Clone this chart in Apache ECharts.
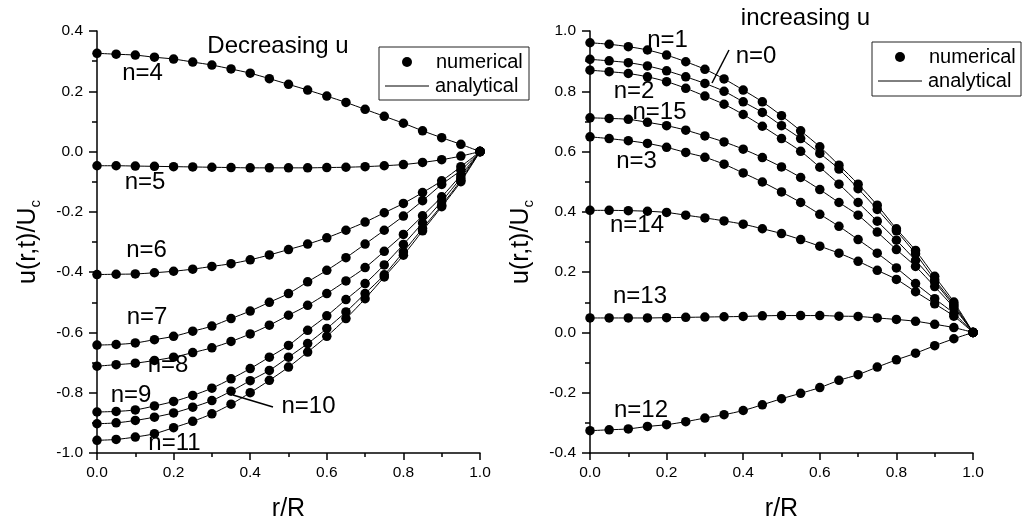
<!DOCTYPE html>
<html>
<head>
<meta charset="utf-8">
<script src="https://cdn.jsdelivr.net/npm/echarts@6/dist/echarts.min.js"></script>
<style>
html,body{margin:0;padding:0;background:#fff;}
#c{width:1022px;height:522px;}
</style>
</head>
<body>
<div id="c"></div>
<script>
// radial positions r/R
const r = [0,0.05,0.1,0.15,0.2,0.25,0.3,0.35,0.4,0.45,0.5,0.55,0.6,0.65,0.7,0.75,0.8,0.85,0.9,0.95,1.0];

// left panel: decreasing u
const n4  = [0.326,0.323,0.320,0.313,0.307,0.297,0.287,0.274,0.260,0.242,0.223,0.204,0.184,0.163,0.140,0.117,0.094,0.069,0.046,0.024,0];
const n5  = [-0.047,-0.047,-0.048,-0.049,-0.050,-0.051,-0.052,-0.053,-0.054,-0.054,-0.054,-0.054,-0.053,-0.052,-0.050,-0.047,-0.043,-0.036,-0.027,-0.015,0];
const n6  = [-0.408,-0.407,-0.406,-0.402,-0.397,-0.390,-0.381,-0.372,-0.359,-0.343,-0.325,-0.307,-0.286,-0.261,-0.234,-0.203,-0.172,-0.136,-0.097,-0.050,0];
const n7  = [-0.642,-0.640,-0.635,-0.624,-0.613,-0.596,-0.579,-0.554,-0.529,-0.500,-0.471,-0.432,-0.394,-0.352,-0.307,-0.261,-0.214,-0.163,-0.109,-0.062,0];
const n8  = [-0.712,-0.707,-0.702,-0.693,-0.682,-0.667,-0.651,-0.630,-0.605,-0.576,-0.543,-0.510,-0.471,-0.429,-0.385,-0.331,-0.275,-0.213,-0.150,-0.078,0];
const n9  = [-0.864,-0.862,-0.857,-0.844,-0.829,-0.809,-0.785,-0.754,-0.720,-0.682,-0.643,-0.593,-0.545,-0.491,-0.438,-0.376,-0.308,-0.237,-0.165,-0.087,0];
const n10 = [-0.903,-0.900,-0.892,-0.881,-0.867,-0.848,-0.826,-0.795,-0.760,-0.726,-0.682,-0.637,-0.587,-0.532,-0.471,-0.409,-0.333,-0.255,-0.178,-0.095,0];
const n11 = [-0.958,-0.955,-0.947,-0.936,-0.916,-0.895,-0.870,-0.838,-0.800,-0.759,-0.715,-0.665,-0.613,-0.554,-0.488,-0.416,-0.344,-0.263,-0.183,-0.100,0];

// right panel: increasing u
const n1  = [0.961,0.956,0.948,0.937,0.920,0.898,0.873,0.841,0.804,0.765,0.719,0.669,0.616,0.555,0.492,0.422,0.344,0.272,0.186,0.101,0];
const n0  = [0.906,0.901,0.895,0.884,0.868,0.848,0.826,0.800,0.765,0.730,0.686,0.643,0.594,0.542,0.477,0.408,0.337,0.261,0.175,0.094,0];
const n2  = [0.870,0.865,0.859,0.848,0.832,0.810,0.784,0.757,0.723,0.684,0.643,0.601,0.548,0.492,0.431,0.369,0.306,0.239,0.167,0.088,0];
const n15 = [0.712,0.710,0.707,0.697,0.686,0.671,0.652,0.632,0.608,0.580,0.549,0.514,0.474,0.431,0.389,0.333,0.275,0.219,0.152,0.082,0];
const n3  = [0.649,0.643,0.636,0.627,0.614,0.597,0.581,0.558,0.529,0.499,0.466,0.431,0.392,0.352,0.308,0.263,0.214,0.162,0.112,0.063,0];
const n14 = [0.405,0.405,0.404,0.402,0.398,0.389,0.380,0.370,0.359,0.344,0.328,0.308,0.286,0.263,0.236,0.206,0.176,0.135,0.095,0.054,0];
const n13 = [0.048,0.048,0.048,0.048,0.049,0.050,0.051,0.052,0.053,0.055,0.056,0.056,0.056,0.054,0.053,0.048,0.043,0.037,0.027,0.016,0];
const n12 = [-0.326,-0.323,-0.320,-0.312,-0.306,-0.296,-0.284,-0.273,-0.259,-0.240,-0.220,-0.202,-0.183,-0.159,-0.140,-0.115,-0.091,-0.069,-0.044,-0.021,0];

const leftCurves  = [n4,n5,n6,n7,n8,n9,n10,n11];
const rightCurves = [n1,n0,n2,n15,n3,n14,n13,n12];

const xTicks = [0,0.2,0.4,0.6,0.8,1.0];
const leftYRange = [-1.0, 0.4];
const rightYRange = [-0.4, 1.0];

const FONT = '"Liberation Sans", Arial, Helvetica, sans-serif';

function mkX(idx) {
  return {
    type:'value', gridIndex: idx, min: xTicks[0], max: xTicks[xTicks.length-1], interval: 0.2,
    name: 'r/R', nameLocation: 'middle', nameGap: 44,
    nameTextStyle: {fontFamily: FONT, fontSize: 25, color:'#000'},
    axisLine: {show:true, onZero:false, lineStyle:{color:'#000', width:1.5}},
    axisTick: {show:true, inside:false, length:7, lineStyle:{color:'#000', width:1.5}},
    minorTick: {show:true, splitNumber:2, length:4, lineStyle:{color:'#000', width:1.5}},
    splitLine: {show:false},
    axisLabel: {fontFamily: FONT, fontSize: 15.5, color:'#000', margin: 12, formatter: v => v.toFixed(1)}
  };
}
function mkY(idx, range) {
  return {
    type:'value', gridIndex: idx, min: range[0], max: range[1], interval: 0.2,
    name: '{m|u(r,t)/U}{s|c}', nameLocation: 'middle', nameGap: 54, nameRotate: 90,
    nameTextStyle: {fontFamily: FONT, color:'#000',
      rich: {
        m: {fontFamily: FONT, fontSize: 25, lineHeight: 30, color:'#000'},
        s: {fontFamily: FONT, fontSize: 15, lineHeight: 10, verticalAlign:'bottom', color:'#000'}
      }},
    axisLine: {show:true, onZero:false, lineStyle:{color:'#000', width:1.5}},
    axisTick: {show:true, inside:false, length:8, lineStyle:{color:'#000', width:1.5}},
    minorTick: {show:true, splitNumber:2, length:5, lineStyle:{color:'#000', width:1.5}},
    splitLine: {show:false},
    axisLabel: {fontFamily: FONT, fontSize: 15.5, color:'#000', margin: 14, formatter: v => v.toFixed(1)}
  };
}

function mkSeries(arr, gi) {
  return {
    type:'line', xAxisIndex: gi, yAxisIndex: gi,
    data: r.map((x,i)=>[x, arr[i]]),
    smooth: 0.3, symbol:'circle', symbolSize: 9.5, showSymbol: true,
    itemStyle: {color:'#000'}, lineStyle: {color:'#000', width:1},
    animation:false, silent:true
  };
}

const series = [];
leftCurves.forEach(a => series.push(mkSeries(a,0)));
rightCurves.forEach(a => series.push(mkSeries(a,1)));

function txt(t, x, y, size) {
  return {type:'text', x:x, y:y, z:100, style:{text:t, fill:'#000', font: size+'px '+FONT, align:'center', verticalAlign:'middle'}};
}
function ln(x1,y1,x2,y2) {
  return {type:'line', z:100, shape:{x1:x1,y1:y1,x2:x2,y2:y2}, style:{stroke:'#000', lineWidth:1.5}};
}
function legendBox(x, y, w, h) {
  return [
    {type:'rect', z:90, shape:{x:x,y:y,width:w,height:h}, style:{fill:'#fff', stroke:'#222', lineWidth:1}},
    {type:'circle', z:100, shape:{cx:x+28, cy:y+15, r:5}, style:{fill:'#000'}},
    {type:'text', z:100, x:x+57, y:y+15, style:{text:'numerical', fill:'#000', font:'20px '+FONT, align:'left', verticalAlign:'middle'}},
    {type:'line', z:100, shape:{x1:x+6, y1:y+39, x2:x+50, y2:y+39}, style:{stroke:'#000', lineWidth:1}},
    {type:'text', z:100, x:x+56, y:y+39, style:{text:'analytical', fill:'#000', font:'20px '+FONT, align:'left', verticalAlign:'middle'}}
  ];
}

const graphics = [
  txt('Decreasing u', 278, 46, 24),
  txt('n=4', 142.5, 73.5, 24),
  txt('n=5', 145, 182, 24),
  txt('n=6', 146.5, 250, 24),
  txt('n=7', 147, 317, 24),
  txt('n=8', 168, 365, 24),
  txt('n=9', 131, 395, 24),
  txt('n=10', 308.5, 406.5, 24),
  txt('n=11', 174.5, 443, 24),
  ln(233, 395, 273, 407),
  txt('increasing u', 805.5, 18, 24),
  txt('n=1', 667.5, 40, 24),
  txt('n=0', 756, 56.5, 24),
  txt('n=2', 634, 91, 24),
  txt('n=15', 659.5, 112.5, 24),
  txt('n=3', 636.5, 161.5, 24),
  txt('n=14', 637, 225, 24),
  txt('n=13', 640, 296.5, 24),
  txt('n=12', 641, 410, 24),
  ln(729, 50, 712, 83)
].concat(legendBox(379, 47, 150, 53)).concat(legendBox(872, 42, 149, 54));

const chart = echarts.init(document.getElementById('c'), null, {renderer:'canvas'});
chart.setOption({
  backgroundColor:'#fff',
  animation:false,
  grid: [
    {left:97, top:31, width:383, height:422, containLabel:false, outerBoundsMode:'none'},
    {left:590, top:31, width:383, height:422, containLabel:false, outerBoundsMode:'none'}
  ],
  xAxis: [mkX(0), mkX(1)],
  yAxis: [mkY(0, leftYRange), mkY(1, rightYRange)],
  series: series,
  graphic: graphics
});
</script>
</body>
</html>
